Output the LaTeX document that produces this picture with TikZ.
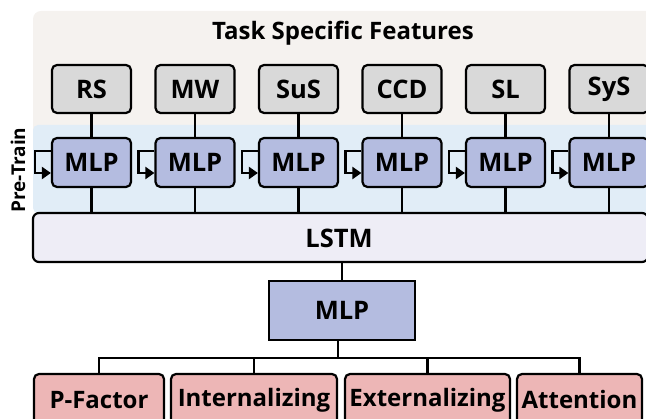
\documentclass[tikz,border=0pt]{standalone}
\usepackage{fontspec}
\setmainfont{Open Sans}
\usetikzlibrary{arrows.meta}
\definecolor{panelbeige}{HTML}{F5F2EF}
\definecolor{panelblue}{HTML}{E1EDF7}
\definecolor{featgray}{HTML}{D9D9D9}
\definecolor{mlpblue}{HTML}{B4BCE0}
\definecolor{lstmfill}{HTML}{EEEDF6}
\definecolor{outpink}{HTML}{EDB6B6}
\tikzset{
  titlefont/.style={font=\bfseries\fontsize{24}{28}\selectfont},
  labelfont/.style={font=\bfseries\fontsize{25.5}{29}\selectfont},
  box/.style={draw=black, line width=2.2pt, inner sep=0pt, labelfont},
  featbox/.style={box, fill=featgray, rounded corners=5pt, minimum width=79pt, minimum height=48pt},
  mlpbox/.style={box, fill=mlpblue, rounded corners=5pt, minimum width=79pt, minimum height=49pt},
  outbox/.style={box, fill=outpink, rounded corners=5pt, minimum height=52pt, font=\bfseries\fontsize{24}{28}\selectfont},
  wire/.style={draw=black, line width=2.2pt},
  feedback/.style={wire, -{Triangle[length=9pt,width=12pt]}},
}
\begin{document}
\begin{tikzpicture}[x=1pt,y=-1pt]
\useasboundingbox (0,0) rectangle (646,419);
\clip (0,0) rectangle (646,419);
% background panels
\fill[panelbeige, rounded corners=8pt] (33,11) rectangle (700,140);
\fill[panelblue, rounded corners=5pt] (33,125) rectangle (700,213);
\node[titlefont] (title) at (343,33) {Task Specific Features};
\node[font=\bfseries\fontsize{19}{21}\selectfont, rotate=90] (pretrain) at (18,170) {Pre-Train};
% per-task feature encoders
\foreach \i/\cx/\lab in {1/91.5/RS, 2/195/MW, 3/298.5/SuS, 4/402/CCD, 5/505.5/SL, 6/609/SyS}{
  \node[featbox] (f\i) at (\cx,89) {\lab};
  \node[mlpbox] (m\i) at (\cx,162.5) {MLP};
}
% shared sequence model
\node[box, fill=lstmfill, rounded corners=6pt, minimum width=615pt, minimum height=49pt, text width=0pt] (lstm) at (340.5,237.5) {};
\node[labelfont] (lstmlab) at (339,238) {LSTM};
\foreach \i in {1,...,6}{
  \draw[wire] (f\i) -- (m\i);
  \draw[wire] (m\i.south) -- (m\i.south |- lstm.north);
  \draw[feedback] ([yshift=11.5pt]m\i.west) -- ++(-16,0) |- ([yshift=-10.5pt]m\i.west);
}
% prediction head
\node[box, fill=mlpblue, minimum width=146pt, minimum height=59pt] (head) at (342,310.5) {MLP};
\draw[wire] (lstm.south -| head.north) -- (head.north);
% outputs
\node[outbox, minimum width=130pt] (o1) at (99,400) {P-Factor};
\node[outbox, minimum width=166pt] (o2) at (254,400) {Internalizing};
\node[outbox, minimum width=165pt] (o3) at (427.5,400) {Externalizing};
\node[outbox, minimum width=125pt] (o4) at (579.5,400) {Attention};
\coordinate (bar) at (338,358);
\draw[wire] (head.south -| bar) -- (bar);
\draw[wire] (o1.north) -- (o1.north |- bar) -- (o4.north |- bar) -- (o4.north);
\draw[wire] (o2.north) -- (o2.north |- bar);
\draw[wire] (o3.north) -- (o3.north |- bar);
\end{tikzpicture}
\end{document}
